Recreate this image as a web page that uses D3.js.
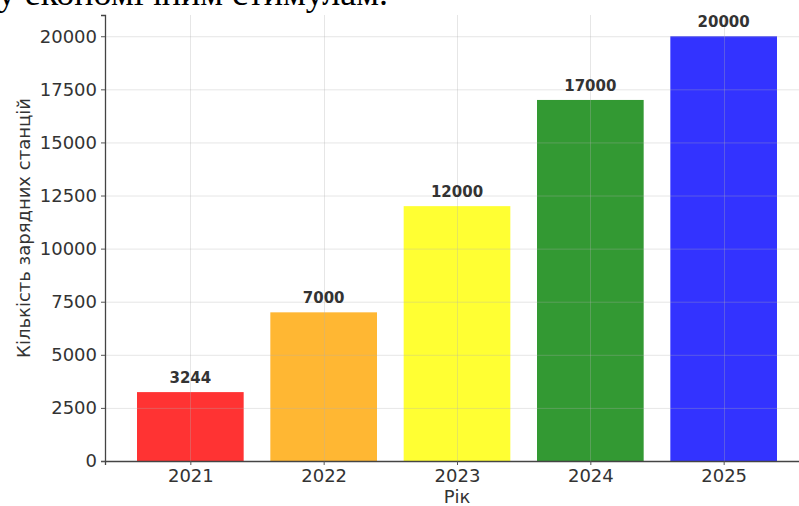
<!DOCTYPE html>
<html>
<head>
<meta charset="utf-8">
<script src="https://cdn.jsdelivr.net/npm/d3@7"></script>
<style>
  html, body { margin: 0; padding: 0; background: #fff; overflow: hidden; }
  svg { display: block; }
</style>
</head>
<body>
<svg id="chart" width="799" height="506"></svg>
<script>
// Charging stations per year
const years = ["2021", "2022", "2023", "2024", "2025"];
const stations = [3244, 7000, 12000, 17000, 20000];
const barColors = ["#ff3333", "#ffb733", "#ffff33", "#339933", "#3333ff"];
const yTicks = [0, 2500, 5000, 7500, 10000, 12500, 15000, 17500, 20000];
const xTitle = "Рік";
const yTitle = "Кількість зарядних станцій";
const pageLine = "у економічним стимулам.";

(function draw() {
  const svg = d3.select("#chart");
  const plotLeft = 105, plotBottom = 461, plotTop = 15, plotRight = 809;

  // Continuous x position (bar index) with margins like a default bar plot
  const x = d3.scaleLinear().domain([-0.64, years.length - 1 + 0.64]).range([plotLeft, plotRight]);
  const y = d3.scaleLinear().domain([0, 21000]).range([plotBottom, plotTop]);
  const barW = x(0.8) - x(0);

  // Line of the surrounding page text, mostly above the frame
  svg.append("text")
    .attr("x", 388).attr("y", 5)
    .attr("text-anchor", "end")
    .attr("font-family", "'Liberation Serif', 'Times New Roman', serif")
    .attr("font-size", 36)
    .attr("fill", "#000")
    .text(pageLine);

  // Bars
  svg.append("g").selectAll("rect")
    .data(stations)
    .join("rect")
    .attr("x", (d, i) => x(i) - barW / 2)
    .attr("y", d => y(d))
    .attr("width", barW)
    .attr("height", d => y(0) - y(d))
    .attr("fill", (d, i) => barColors[i]);

  // Grid drawn over the bars, faint
  const grid = svg.append("g").attr("stroke", "#b0b0b0").attr("stroke-opacity", 0.4).attr("stroke-width", 0.8);
  grid.selectAll("line.h").data(yTicks.slice(1)).join("line")
    .attr("class", "h")
    .attr("x1", plotLeft).attr("x2", plotRight)
    .attr("y1", d => y(d) + 0.5).attr("y2", d => y(d) + 0.5);
  grid.selectAll("line.v").data(years).join("line")
    .attr("class", "v")
    .attr("x1", (d, i) => Math.round(x(i)) + 0.5).attr("x2", (d, i) => Math.round(x(i)) + 0.5)
    .attr("y1", plotTop).attr("y2", plotBottom);

  // Axes
  const tickFont = "'DejaVu Sans', sans-serif";
  const yAxis = svg.append("g")
    .attr("transform", `translate(${plotLeft},0)`)
    .call(d3.axisLeft(y).tickValues(yTicks).tickSize(4).tickPadding(4).tickFormat(d3.format("d")));
  yAxis.select(".domain").attr("stroke", "#444").attr("stroke-width", 1.3);
  yAxis.selectAll(".tick line").attr("stroke", "#555");
  yAxis.selectAll("text").attr("font-family", tickFont).attr("font-size", 18).attr("fill", "#333");

  const xAxis = svg.append("g")
    .attr("transform", `translate(0,${plotBottom})`)
    .call(d3.axisBottom(x).tickValues(d3.range(years.length)).tickSize(4).tickPadding(4)
      .tickFormat(i => years[i]));
  xAxis.select(".domain").attr("stroke", "#444").attr("stroke-width", 1.3);
  xAxis.selectAll(".tick line").attr("stroke", "#555");
  xAxis.selectAll("text").attr("font-family", tickFont).attr("font-size", 18).attr("fill", "#333");

  // Value labels above bars
  svg.append("g").selectAll("text")
    .data(stations)
    .join("text")
    .attr("x", (d, i) => x(i))
    .attr("y", d => y(d) - 9)
    .attr("text-anchor", "middle")
    .attr("font-family", tickFont)
    .attr("font-weight", "bold")
    .attr("font-size", 15)
    .attr("fill", "#333")
    .text(d => d);

  // Axis titles
  svg.append("text")
    .attr("x", x(2)).attr("y", 503)
    .attr("text-anchor", "middle")
    .attr("font-family", tickFont).attr("font-size", 18).attr("fill", "#333")
    .text(xTitle);
  svg.append("text")
    .attr("transform", "translate(30,228) rotate(-90)")
    .attr("text-anchor", "middle")
    .attr("font-family", tickFont).attr("font-size", 18).attr("fill", "#333")
    .text(yTitle);
})();
</script>
</body>
</html>
